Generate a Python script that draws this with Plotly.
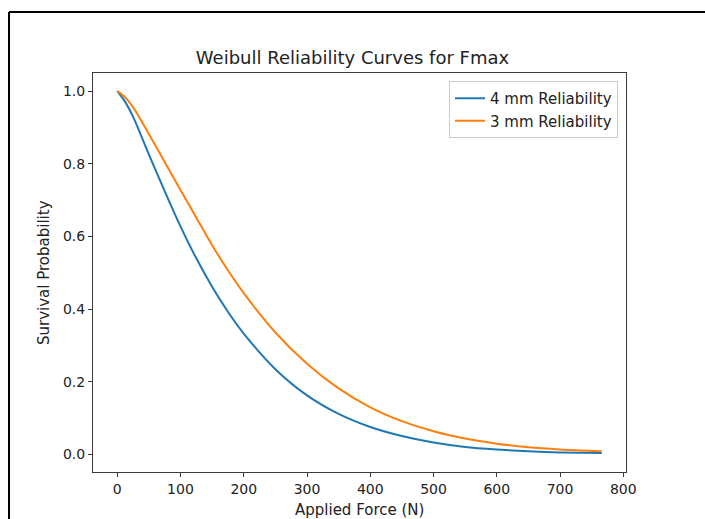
import plotly.graph_objects as go

force = [0, 12, 25, 50, 75, 100, 125, 150, 175, 200, 250, 300, 350, 400, 450,
         500, 550, 600, 650, 700, 766]
rel_4mm = [1.0, 0.972, 0.93, 0.826, 0.725, 0.628, 0.540, 0.462, 0.393, 0.333,
           0.235, 0.163, 0.112, 0.076, 0.051, 0.033, 0.021, 0.014, 0.009, 0.006, 0.004]
rel_3mm = [1.0, 0.984, 0.956, 0.882, 0.805, 0.728, 0.652, 0.576, 0.507, 0.444,
           0.336, 0.250, 0.182, 0.130, 0.092, 0.064, 0.044, 0.030, 0.020, 0.014, 0.009]

x_ticks = [0, 100, 200, 300, 400, 500, 600, 700, 800]
y_ticks = [0.0, 0.2, 0.4, 0.6, 0.8, 1.0]

FONT = "DejaVu Sans"

fig = go.Figure()
fig.add_trace(go.Scatter(x=force, y=rel_4mm, mode="lines", name="4 mm Reliability",
                         line=dict(color="#1f77b4", width=2, shape="spline", smoothing=0.8)))
fig.add_trace(go.Scatter(x=force, y=rel_3mm, mode="lines", name="3 mm Reliability",
                         line=dict(color="#ff7f0e", width=2, shape="spline", smoothing=0.8)))

L, R, T, B = 93, 79, 73, 47
W, H = 705, 519
pw, ph = W - L - R, H - T - B

def px(xp):
    return (xp - L) / pw

def py(yp):
    return (H - B - yp) / ph

axis_common = dict(showgrid=False, zeroline=False, showline=True, mirror=True,
                   linecolor="#3a3a3a", linewidth=1, ticks="outside", ticklen=4,
                   tickwidth=1, tickcolor="#3a3a3a", automargin=False,
                   tickfont=dict(family=FONT, size=14, color="#222"))

fig.update_layout(
    width=W, height=H, autosize=False,
    margin=dict(l=L, r=R, t=T, b=B, pad=0),
    paper_bgcolor="white", plot_bgcolor="white",
    font=dict(family=FONT, color="#222"),
    title=dict(text="Weibull Reliability Curves for Fmax", x=px(359.5), xanchor="center",
               y=1 - 58 / H, yanchor="middle", font=dict(family=FONT, size=18, color="#222")),
    xaxis=dict(range=[-38.3, 804.3], tickvals=x_ticks, **axis_common),
    yaxis=dict(range=[-0.048, 1.05], tickvals=y_ticks, tickformat=".1f", **axis_common),
    legend=dict(x=px(618), xanchor="right", y=py(81), yanchor="top",
                bordercolor="#cccccc", borderwidth=1, bgcolor="rgba(255,255,255,0.8)",
                font=dict(family=FONT, size=15, color="#222"), itemwidth=30,
                tracegroupgap=0),
    showlegend=True,
)

# axis titles
fig.add_annotation(text="Applied Force (N)", xref="paper", yref="paper",
                   x=px(359.5), y=py(510), xanchor="center", yanchor="middle",
                   showarrow=False, font=dict(family=FONT, size=15, color="#222"))
fig.add_annotation(text="Survival Probability", xref="paper", yref="paper",
                   x=px(44), y=py(273), xanchor="center", yanchor="middle", textangle=-90,
                   showarrow=False, font=dict(family=FONT, size=15, color="#222"))

# outer black frame of the original screenshot
fig.add_shape(type="line", xref="paper", yref="paper",
              x0=px(9), y0=py(12), x1=px(705), y1=py(12),
              line=dict(color="black", width=2))
fig.add_shape(type="line", xref="paper", yref="paper",
              x0=px(9), y0=py(12), x1=px(9), y1=py(519),
              line=dict(color="black", width=2))

fig.write_html("out.html", config={"displayModeBar": False},
               post_script="document.body.style.margin='0';document.body.style.overflow='hidden';")
